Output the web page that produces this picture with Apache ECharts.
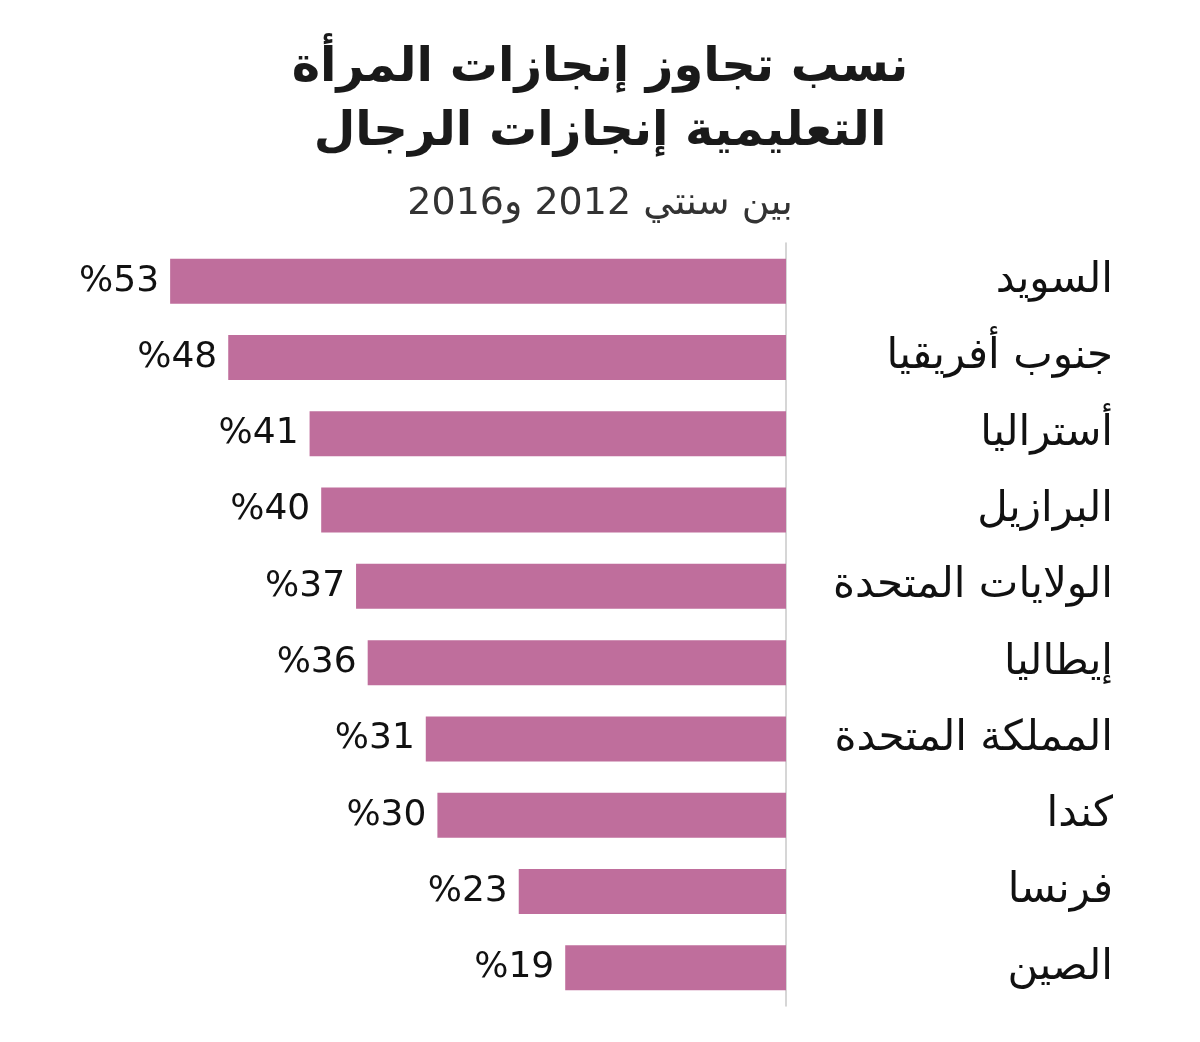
<!DOCTYPE html>
<html>
<head>
<meta charset="utf-8">
<script src="https://cdn.jsdelivr.net/npm/echarts@6/dist/echarts.min.js"></script>
<style>
  html, body { margin: 0; padding: 0; background: #fff; }
  #chart { width: 1200px; height: 1042px; }
</style>
</head>
<body>
<div id="chart" dir="rtl"></div>
<script>
// البيانات
const countries = ["السويد", "جنوب أفريقيا", "أستراليا", "البرازيل", "الولايات المتحدة", "إيطاليا", "المملكة المتحدة", "كندا", "فرنسا", "الصين"];
const values = [53, 48, 41, 40, 37, 36, 31, 30, 23, 19];
const titleText = "نسب تجاوز إنجازات المرأة\nالتعليمية إنجازات الرجال";
const subText = "بين سنتي 2012 و2016";

const chart = echarts.init(document.getElementById("chart"));
const font = "'DejaVu Sans', sans-serif";

const option = {
  backgroundColor: "#fff",
  animation: false,
  title: {
    text: titleText,
    subtext: subText,
    left: "center",
    top: 32,
    itemGap: 20,
    textStyle: {
      fontFamily: font,
      fontSize: 48,
      fontWeight: "bold",
      color: "#1a1a1a",
      lineHeight: 64
    },
    subtextStyle: {
      fontFamily: font,
      fontSize: 38,
      fontWeight: "normal",
      color: "#333"
    }
  },
  grid: {
    left: 786 - 60 * 11.62,
    width: 60 * 11.62,
    top: 243,
    height: 763
  },
  xAxis: {
    type: "value",
    inverse: true,
    min: 0,
    max: 60,
    show: false
  },
  yAxis: {
    type: "category",
    data: countries,
    inverse: true,
    position: "right",
    axisLine: { show: true, lineStyle: { color: "#c8c8c8", width: 1.5 } },
    axisTick: { show: false },
    axisLabel: {
      align: "right",
      margin: 327,
      fontFamily: font,
      fontSize: 42,
      color: "#111"
    }
  },
  series: [
    {
      type: "bar",
      data: values,
      barWidth: 45,
      itemStyle: { color: "#bf6e9c" },
      label: {
        show: true,
        position: "left",
        distance: 11,
        formatter: function (p) { return "%" + p.value; },
        fontFamily: font,
        fontSize: 36,
        color: "#111"
      }
    }
  ]
};

chart.setOption(option);
</script>
</body>
</html>
